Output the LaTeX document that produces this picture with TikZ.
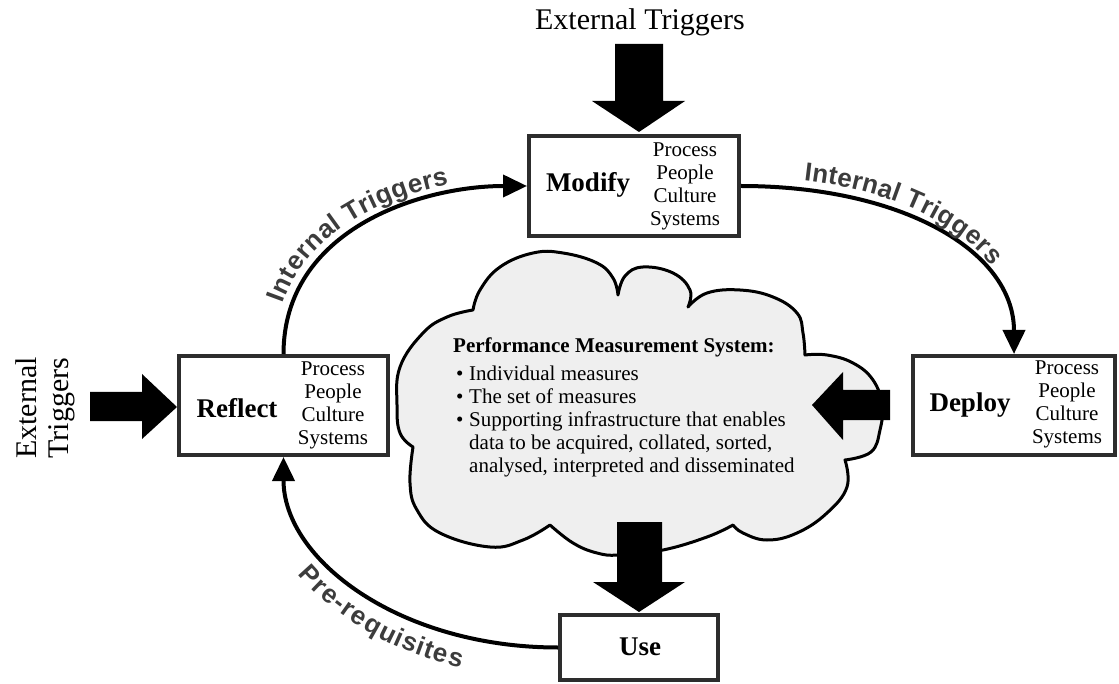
\documentclass[tikz,border=0pt]{standalone}
\usepackage{fontspec}
\setmainfont{Liberation Serif}
\setsansfont{Liberation Sans}
\usetikzlibrary{arrows.meta,decorations.text}
\definecolor{boxline}{RGB}{45,45,45}
\definecolor{labelgray}{RGB}{60,60,60}
\definecolor{cloudfill}{RGB}{239,239,239}

\begin{document}
\begin{tikzpicture}[x=1pt,y=-1pt,
  box/.style={draw=boxline, line width=4pt, fill=white, inner sep=0pt},
  title/.style={font=\fontsize{27}{30}\selectfont\bfseries, inner sep=0pt},
  facets/.style={font=\fontsize{21}{23}\selectfont, align=center, inner sep=0pt},
  ext/.style={font=\fontsize{30}{32}\selectfont, inner sep=0pt},
  flow/.style={line width=4pt, -{Triangle[length=24pt,width=22pt]}},
  blockarrow/.style={fill=black},
  cloudline/.style={draw=black, line width=3pt, fill=cloudfill, line join=round},
  pmstext/.style={font=\fontsize{21}{23}\selectfont, align=left, inner sep=0pt, anchor=base west}
]
\useasboundingbox (0,0) rectangle (1119,684);

% ---- central cloud: the performance measurement system ----
\draw[cloudline] (473,310)
  -- plot[smooth, tension=0.7] coordinates {(473,310) (480,290) (500,267) (533,253) (563,253) (597,263) (613,278) (618,295)}
  -- plot[smooth, tension=0.7] coordinates {(618,295) (625,276) (643,267) (673,273) (690,290) (688,307)}
  -- plot[smooth, tension=0.7] coordinates {(688,307) (707,293) (740,290) (773,297) (797,313) (803,333) (805,355)}
  -- plot[smooth, tension=0.7] coordinates {(805,355) (827,355) (853,363) (873,380) (882,405) (880,430) (871,452) (845,460)}
  -- plot[smooth, tension=0.7] coordinates {(845,460) (847,487) (827,513) (797,533) (767,540) (743,533) (733,525)}
  -- plot[smooth, tension=0.7] coordinates {(733,525) (707,537) (663,550) (620,555) (597,553) (573,543) (550,525)}
  -- plot[smooth, tension=0.7] coordinates {(550,525) (523,540) (490,547) (440,533) (417,510) (410,483) (413,447)}
  -- plot[smooth, tension=0.7] coordinates {(413,447) (400,433) (397,405) (400,367) (423,333) (447,317) (473,310)}
  -- cycle;

\node[pmstext, font=\fontsize{21}{23}\selectfont\bfseries] (pmstitle) at (453,353) {Performance Measurement System:};
\node[pmstext, anchor=north west] (pmslist) at (456,366)
  {\makebox[13pt][l]{•}Individual measures\\
   \makebox[13pt][l]{•}The set of measures\\
   \makebox[13pt][l]{•}Supporting infrastructure that enables\\
   \hspace*{13pt}data to be acquired, collated, sorted,\\
   \hspace*{13pt}analysed, interpreted and disseminated};

% ---- the four activity boxes ----
\node[box, minimum width=210pt, minimum height=100pt] (modify) at (634,186) {};
\node[title] (modifyT) at (588,185) {Modify};
\node[facets] (modifyF) at (685,186) {Process\\People\\Culture\\Systems};

\node[box, minimum width=209pt, minimum height=99pt] (reflect) at (283.5,405.5) {};
\node[title] (reflectT) at (237,408) {Reflect};
\node[facets] (reflectF) at (333,405.5) {Process\\People\\Culture\\Systems};

\node[box, minimum width=202pt, minimum height=99pt] (deploy) at (1014,405.5) {};
\node[title] (deployT) at (970,405) {Deploy};
\node[facets] (deployF) at (1067,404.5) {Process\\People\\Culture\\Systems};

\node[box, minimum width=158pt, minimum height=65pt] (use) at (639,647.5) {};
\node[title] (useT) at (640,647) {Use};

% ---- external triggers ----
\node[ext] (exttop) at (640,22) {External Triggers};
\node[ext, rotate=90, align=center] (extleft) at (45,408) {External\\Triggers};

% ---- block arrows ----
\fill[blockarrow] (615,44) -- (663,44) -- (663,101) -- (685,101) -- (639,132) -- (592,101) -- (615,101) -- cycle;
\fill[blockarrow] (90,392) -- (142,392) -- (142,374) -- (177,407) -- (142,439) -- (142,421) -- (90,421) -- cycle;
\fill[blockarrow] (890,390) -- (843,390) -- (843,372) -- (812,405) -- (843,440) -- (843,420) -- (890,420) -- cycle;
\fill[blockarrow] (617,522) -- (662,522) -- (662,582) -- (685,582) -- (639,612) -- (593,582) -- (617,582) -- cycle;

% ---- cycle connectors ----
\draw[flow] (reflect.north) .. controls (283.5,230) and (420,186) .. (modify.west);
\draw[flow] (modify.east) .. controls (900,186) and (1014,250) .. (deploy.north);
\draw[flow] (use.west) .. controls (400,647.5) and (283.5,560) .. (reflect.south);

% ---- connector labels set along the curves ----
\path[decorate, decoration={text along path,
    text={|\sffamily\bfseries\fontsize{26}{26}\selectfont\color{labelgray}|Internal Triggers},
    text align={align=left, left indent=48pt}, raise=9pt}]
  (reflect.north) .. controls (283.5,230) and (420,186) .. (modify.west);
\path[decorate, decoration={text along path,
    text={|\sffamily\bfseries\fontsize{26}{26}\selectfont\color{labelgray}|Internal Triggers},
    text align={align=left, left indent=62pt}, raise=9pt}]
  (modify.east) .. controls (900,186) and (1014,250) .. (deploy.north);
\path[decorate, decoration={text along path,
    text={|\sffamily\bfseries\fontsize{26}{26}\selectfont\color{labelgray}|Pre-requisites},
    text align={align=left, left indent=105pt}, raise=-31pt}]
  (reflect.south) .. controls (283.5,560) and (400,647.5) .. (use.west);
\end{tikzpicture}
\end{document}
